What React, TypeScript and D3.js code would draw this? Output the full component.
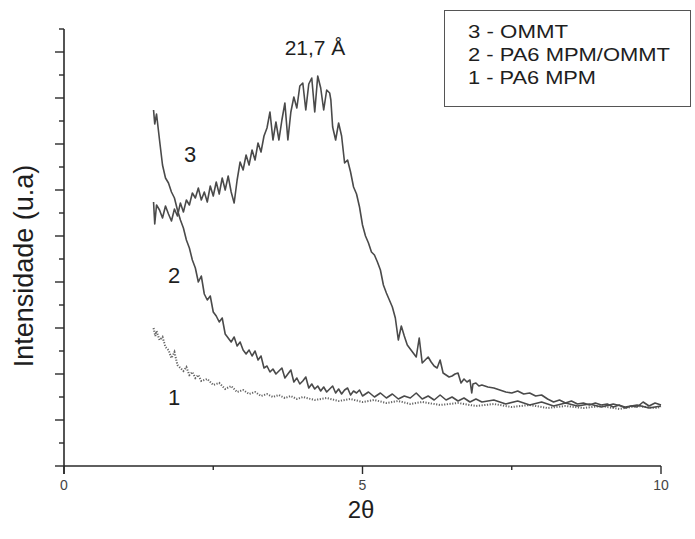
import React from 'react';
import * as d3 from 'd3';

// 2θ (degrees) vs intensity (a.u.)
const X_DOMAIN = [0, 10];
const X_TICKS_MAJOR = [0, 5, 10];
const X_TICK_LABELS = ['0', '5', '10'];
const X_TICKS_MINOR = [2.5, 7.5];
const Y_DOMAIN = [0, 437];
const Y_TICK_STEP = 23;

const LEGEND_LABELS = ['3 - OMMT', '2 - PA6 MPM/OMMT', '1 - PA6 MPM'];
const PEAK_LABEL = '21,7 Å';
const X_TITLE = '2θ';
const Y_TITLE = 'Intensidade (u.a)';

const OMMT: [number, number][] = [
  [1.50,264],[1.52,242],[1.55,261],[1.60,256],[1.65,248],[1.70,260],[1.75,252],[1.80,245],[1.85,257],[1.90,250],
  [1.95,263],[2.00,254],[2.05,266],[2.10,261],[2.15,273],[2.20,268],[2.25,278],[2.30,266],[2.35,274],[2.40,264],
  [2.45,280],[2.50,270],[2.55,284],[2.60,272],[2.65,288],[2.70,276],[2.75,290],[2.80,274],[2.85,263],[2.90,286],
  [2.95,304],[3.00,296],[3.05,311],[3.10,301],[3.15,316],[3.20,306],[3.25,323],[3.30,314],[3.35,330],[3.40,338],
  [3.45,354],[3.50,326],[3.55,344],[3.60,326],[3.65,346],[3.70,363],[3.75,326],[3.80,354],[3.85,369],[3.90,358],
  [3.95,380],[4.00,383],[4.05,356],[4.10,382],[4.15,388],[4.20,354],[4.25,390],[4.30,378],[4.35,356],[4.40,376],
  [4.45,373],[4.47,366],[4.50,339],[4.55,326],[4.60,343],[4.65,330],[4.70,303],[4.75,306],[4.80,294],[4.85,279],
  [4.90,272],[4.95,259],[5.00,241],[5.05,230],[5.10,223],[5.15,214],[5.20,211],[5.25,204],[5.30,196],[5.35,181],
  [5.40,173],[5.45,166],[5.50,159],[5.55,148],[5.60,126],[5.65,140],[5.70,130],[5.75,121],[5.80,117],[5.85,113],
  [5.90,109],[5.95,128],[6.00,103],[6.05,106],[6.10,109],[6.15,104],[6.20,100],[6.25,98],[6.30,106],[6.35,93],
  [6.40,91],[6.45,89],[6.50,90],[6.55,92],[6.60,93],[6.65,83],[6.70,87],[6.75,84],[6.80,86],[6.83,73],
  [6.85,82],[6.90,83],[6.95,80],[7.0,81],[7.1,79],[7.2,78],[7.3,76],[7.4,74],[7.5,73],[7.6,75],
  [7.7,72],[7.8,73],[7.9,70],[8.0,71],[8.1,67],[8.2,64],[8.3,66],[8.4,63],[8.5,65],[8.6,62],
  [8.7,63],[8.8,61],[8.9,63],[9.0,61],[9.1,62],[9.2,59],[9.3,61],[9.4,58],[9.5,60],[9.6,59],
  [9.7,64],[9.8,60],[9.9,63],[10.0,61],
];

const PA6_OMMT: [number, number][] = [
  [1.50,356],[1.52,342],[1.55,352],[1.60,326],[1.65,301],[1.70,288],[1.75,283],[1.80,274],[1.85,268],[1.90,256],
  [1.95,246],[2.00,238],[2.05,226],[2.10,218],[2.15,206],[2.20,198],[2.25,184],[2.30,190],[2.35,172],[2.40,166],
  [2.45,170],[2.50,154],[2.55,150],[2.60,144],[2.65,148],[2.70,132],[2.75,128],[2.80,124],[2.85,129],[2.90,120],
  [2.95,124],[3.00,116],[3.05,112],[3.10,116],[3.15,110],[3.20,115],[3.25,106],[3.30,110],[3.35,98],[3.40,100],
  [3.45,94],[3.50,97],[3.55,92],[3.60,95],[3.65,98],[3.70,88],[3.75,92],[3.80,96],[3.85,84],[3.90,88],
  [3.95,82],[4.00,85],[4.05,89],[4.10,78],[4.15,82],[4.20,77],[4.25,80],[4.30,75],[4.35,79],[4.40,74],
  [4.45,77],[4.50,80],[4.55,73],[4.60,77],[4.65,72],[4.70,76],[4.75,78],[4.80,71],[4.85,75],[4.90,73],
  [4.95,76],[5.0,70],[5.1,74],[5.2,69],[5.3,73],[5.4,68],[5.5,72],[5.6,67],[5.7,70],[5.8,68],
  [5.9,73],[6.0,67],[6.1,70],[6.2,66],[6.3,71],[6.4,66],[6.5,69],[6.6,65],[6.7,68],[6.8,64],
  [6.9,67],[7.0,64],[7.2,66],[7.4,62],[7.6,65],[7.8,61],[8.0,64],[8.2,60],[8.4,63],[8.6,60],
  [8.8,62],[9.0,59],[9.2,62],[9.4,59],[9.6,61],[9.8,58],[10.0,60],
];

const PA6: [number, number][] = [
  [1.50,138],[1.53,130],[1.55,135],[1.60,126],[1.65,129],[1.70,119],[1.75,116],[1.80,108],[1.85,114],[1.90,101],
  [1.95,98],[2.00,95],[2.05,99],[2.10,91],[2.15,94],[2.20,88],[2.25,91],[2.30,85],[2.40,87],[2.50,81],
  [2.60,83],[2.70,77],[2.80,80],[2.90,74],[3.00,76],[3.10,72],[3.20,74],[3.30,70],[3.40,72],[3.50,69],
  [3.60,71],[3.70,68],[3.80,70],[3.90,67],[4.00,69],[4.20,66],[4.40,68],[4.60,65],[4.80,67],[5.00,64],
  [5.20,66],[5.40,63],[5.60,65],[5.80,62],[6.00,64],[6.30,61],[6.60,63],[6.90,60],[7.20,62],[7.50,59],
  [7.80,61],[8.10,58],[8.40,60],[8.70,58],[9.00,60],[9.30,57],[9.60,60],[9.90,58],[10.0,59],
];

const FONT = '"Liberation Sans", Arial, Helvetica, sans-serif';

export default function App() {
  const W = 695, H = 539;
  const x = d3.scaleLinear().domain(X_DOMAIN).range([64, 661]);
  const y = d3.scaleLinear().domain(Y_DOMAIN).range([466, 29]);
  const line = d3.line<[number, number]>().x(d => x(d[0])).y(d => y(d[1]));
  const yTicks = d3.range(Y_DOMAIN[0], Y_DOMAIN[1] + 1, Y_TICK_STEP);
  const axisColor = '#2a2a2a';
  const curveColor = '#4a4a4a';
  const textColor = '#1e1e1e';

  return (
    <svg width={W} height={H} style={{ position: 'absolute', left: 0, top: 0, background: '#fff' }}>
      <rect x={0} y={0} width={W} height={H} fill="#fff" />
      {/* curves */}
      <path d={line(PA6) || ''} fill="none" stroke="#666" strokeWidth={2} strokeDasharray="1.2 1.5" />
      <path d={line(PA6_OMMT) || ''} fill="none" stroke={curveColor} strokeWidth={1.6} strokeLinejoin="round" />
      <path d={line(OMMT) || ''} fill="none" stroke={curveColor} strokeWidth={1.6} strokeLinejoin="round" />

      {/* axes */}
      <line x1={x(X_DOMAIN[0])} x2={x(X_DOMAIN[1])} y1={y(0)} y2={y(0)} stroke={axisColor} strokeWidth={1.6} />
      <line x1={x(0)} x2={x(0)} y1={y(0) + 8} y2={y(Y_DOMAIN[1])} stroke={axisColor} strokeWidth={1.6} />
      {X_TICKS_MAJOR.map((t, i) => (
        <g key={'xm' + t}>
          <line x1={x(t)} x2={x(t)} y1={y(0)} y2={y(0) + 8} stroke={axisColor} strokeWidth={1.4} />
          <text x={x(t)} y={490} textAnchor="middle" fontFamily={FONT} fontSize={14} fill="#444">{X_TICK_LABELS[i]}</text>
        </g>
      ))}
      {X_TICKS_MINOR.map(t => (
        <line key={'xn' + t} x1={x(t)} x2={x(t)} y1={y(0)} y2={y(0) + 4} stroke={axisColor} strokeWidth={1.4} />
      ))}
      {yTicks.map((t, i) => (
        <line key={'y' + t} x1={x(0) - (i % 2 === 0 ? 9 : 5)} x2={x(0)} y1={y(t)} y2={y(t)} stroke={axisColor} strokeWidth={1.4} />
      ))}

      {/* axis titles */}
      <text x={361} y={518} textAnchor="middle" fontFamily={FONT} fontSize={24} fill={textColor}>{X_TITLE}</text>
      <text transform="translate(33,266) rotate(-90)" textAnchor="middle" fontFamily={FONT} fontSize={27} fill={textColor}>{Y_TITLE}</text>

      {/* annotations */}
      <text x={315} y={55} textAnchor="middle" fontFamily={FONT} fontSize={21} fill={textColor}>{PEAK_LABEL}</text>
      <text x={190} y={162} textAnchor="middle" fontFamily={FONT} fontSize={22} fill={textColor}>3</text>
      <text x={174} y={283} textAnchor="middle" fontFamily={FONT} fontSize={22} fill={textColor}>2</text>
      <text x={174} y={405} textAnchor="middle" fontFamily={FONT} fontSize={22} fill={textColor}>1</text>

      {/* legend */}
      <rect x={444.5} y={10.5} width={246} height={96} fill="#fff" stroke="#555" strokeWidth={1} />
      {LEGEND_LABELS.map((s, i) => (
        <text key={s} x={468} y={38 + i * 23} fontFamily={FONT} fontSize={19} fill={textColor}
          textLength={[100, 202, 128][i]} lengthAdjust="spacingAndGlyphs">{s}</text>
      ))}
    </svg>
  );
}
